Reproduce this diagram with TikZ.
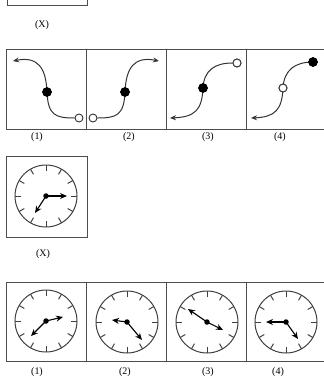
\documentclass[tikz,border=0pt]{standalone}
\usepackage{fontspec}
\setmainfont{Liberation Serif}
\usetikzlibrary{arrows.meta,calc}
\begin{document}
\begin{tikzpicture}[x=1pt,y=-1pt,
  boxline/.style={draw=black!70,line width=0.9pt},
  curveline/.style={draw=black!80,line width=1pt,-{Stealth[length=6pt,width=5pt]}},
  fdot/.style={circle,fill=black,draw=black,inner sep=0pt,minimum size=9pt},
  odot/.style={circle,fill=white,draw=black!80,line width=0.9pt,inner sep=0pt,minimum size=8pt},
  lab/.style={font=\fontsize{10}{11}\selectfont,inner sep=0pt},
  face/.style={draw=black!75,line width=1pt},
  hand/.style={draw=black,line width=1.1pt,-{Stealth[length=7pt,width=6pt]}},
  hub/.style={circle,fill=black,inner sep=0pt,minimum size=5.5pt}]
\useasboundingbox (0,0) rectangle (324,384);
% top partial box
\draw[boxline] (7,0) -- (7,5) -- (87,5) -- (87,0);
\node[lab] (tx) at (42,25) {(X)};
% row 1 boxes
\draw[boxline] (324,49) -- (6,49) -- (6,129) -- (324,129);
\foreach \x in {86,166,246} \draw[boxline] (\x,49) -- (\x,129);
\node[lab] (l1) at (37,137) {(1)};
\node[lab] (l2) at (129,137) {(2)};
\node[lab] (l3) at (208,137) {(3)};
\node[lab] (l4) at (280,137) {(4)};
% box 1
\node[odot] (o1) at (79,118) {};
\node[fdot] (d1) at (47,92) {};
\coordinate (t1) at (13,61);
\draw[curveline] (o1.west) .. controls (55,118) and (48,115) .. (d1.center) .. controls (46,68) and (38,56) .. (t1);
\node[fdot] at (d1) {};
% box 2
\node[odot] (o2) at (93,118) {};
\node[fdot] (d2) at (125,92) {};
\coordinate (t2) at (159,61);
\draw[curveline] (o2.east) .. controls (117,118) and (124,115) .. (d2.center) .. controls (126,68) and (134,56) .. (t2);
\node[fdot] at (d2) {};
% box 3
\node[odot] (o3) at (237,63) {};
\node[fdot] (d3) at (203,88) {};
\coordinate (t3) at (170,118);
\draw[curveline] (o3.west) .. controls (215,63) and (204,70) .. (d3.center) .. controls (202,110) and (195,117) .. (t3);
\node[fdot] at (d3) {};
\node[odot] at (o3) {};
% box 4
\node[fdot] (d4) at (313,62) {};
\node[odot] (o4) at (283,88) {};
\coordinate (t4) at (251,118);
\draw[curveline] (d4.center) .. controls (295,62) and (284,70) .. (o4.center) .. controls (282,110) and (275,117) .. (t4);
\node[odot] at (o4) {};
\node[fdot] at (d4) {};
% clock X box
\draw[boxline] (6,156) rectangle (87,237);
\node[lab] (lx) at (43,254) {(X)};
% row 2 boxes
\draw[boxline] (324,282) -- (6,282) -- (6,361) -- (324,361);
\foreach \x in {86,166,246} \draw[boxline] (\x,282) -- (\x,361);
\node[lab] (m1) at (37,372) {(1)};
\node[lab] (m2) at (125,372) {(2)};
\node[lab] (m3) at (208,372) {(3)};
\node[lab] (m4) at (278,372) {(4)};
% clock faces
\foreach \cx/\cy in {46/196, 46/321, 127/322, 207/322, 286/322}{
  \draw[face] (\cx,\cy) circle (31);
  \foreach \a in {0,30,...,330}
    \draw[face] ($(\cx,\cy)+(\a:25)$) -- ($(\cx,\cy)+(\a:31)$);
}
% hands
\foreach \cx/\cy/\ax/\ay/\bx/\by in {46/196/67/196/35/213, 46/321/63/317/31/336, 127/322/112/320/142/340, 207/322/188/309/223/330, 286/322/266/322/298/339}{
  \node[hub] (h) at (\cx,\cy) {};
  \draw[hand] (h.center) -- (\ax,\ay);
  \draw[hand] (h.center) -- (\bx,\by);
}
\end{tikzpicture}
\end{document}
